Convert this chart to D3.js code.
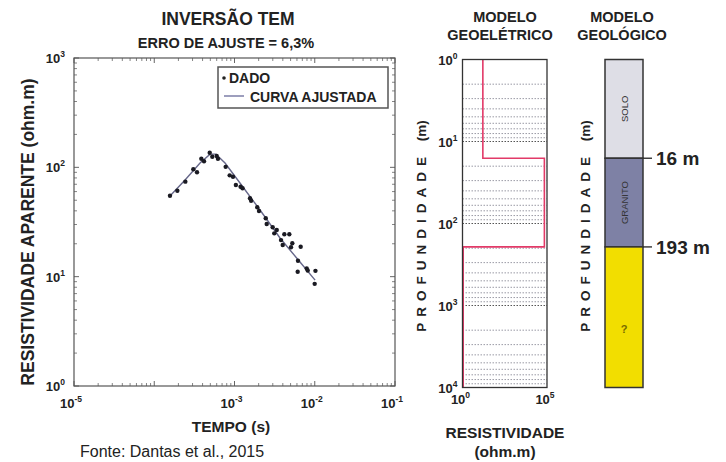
<!DOCTYPE html>
<html><head><meta charset="utf-8">
<script src="https://cdn.jsdelivr.net/npm/d3@7"></script>
<style>
body{margin:0;background:#fff}
svg{display:block}
text{font-family:"Liberation Sans",Arial,sans-serif;fill:#222;font-weight:bold}
</style>
</head><body>
<svg id="c" width="726" height="462"></svg>
<script>
// ---------- data ----------
const timeData = [1.57e-4,1.94e-4,2.44e-4,3.07e-4,3.41e-4,3.86e-4,4.17e-4,4.91e-4,5.29e-4,6.0e-4,6.22e-4,7.76e-4,8.71e-4,9.58e-4,1.04e-3,1.19e-3,1.26e-3,1.56e-3,1.61e-3,1.92e-3,2.02e-3,2.45e-3,2.52e-3,2.99e-3,3.13e-3,3.36e-3,3.80e-3,3.99e-3,4.18e-3,4.82e-3,5.06e-3,5.25e-3,6.18e-3,6.13e-3,6.68e-3,7.94e-3,8.17e-3,1.02e-2,9.98e-3];
const rhoData  = [55.0,61.1,74.0,95.9,90.2,120,113.6,136,125,127,120,101,84.5,82,68.9,66.5,64.3,52.1,49.5,43.1,39.9,34.2,30.3,28.3,24.9,26.7,21.6,19.5,24.4,24.4,18.6,20.2,14.0,11.1,18.8,11.9,11.4,11.3,8.6];
const fitTime = [1.57e-4,2.42e-4,3.72e-4,4.96e-4,5.87e-4,7.62e-4,1.17e-3,2.08e-3,3.69e-3,6.55e-3,1.01e-2];
const fitRho  = [54.7,76.6,109.6,132,132,109.6,71.9,40.7,22.6,13.6,9.3];
const xTickExp = [-5,-4,-3,-2,-1];
const xTickLabel = ["-5","","-3","-2","-1"];
const yTickExp = [0,1,2,3];
const legendLabels = ["DADO","CURVA AJUSTADA"];

const layerRho    = [16,70000,1.1];
const layerTop    = [1,16,193];
const layerBottom = [16,193,10000];
const depthTickExp = [0,1,2,3,4];
const resTickExp = [0,5];
const geoNames = ["SOLO","GRANITO","?"];
const boundaryDepth = [16,193];
const boundaryLabel = ["16 m","193 m"];

// ---------- styles ----------
const geoFill = ["#dedee6","#7e81a5","#f2de00"];
const geoText = ["#333","#333","#776a00"];

const svg = d3.select("#c");

function powLabel(g, x, y, base, exp, anchor, fs, sfs){
  const t = g.append("text").attr("x",x).attr("y",y).attr("text-anchor",anchor).style("font-size",fs+"px");
  t.append("tspan").text(base);
  t.append("tspan").attr("dy",-fs*0.45).style("font-size",sfs+"px").text(exp);
  return t;
}
function depthLabel(cx, cy){
  const t = svg.append("text").attr("transform",`translate(${cx},${cy}) rotate(-90)`).attr("text-anchor","middle").style("font-size","13.5px");
  t.append("tspan").style("letter-spacing","6px").text("PROFUNDIDADE ");
  t.append("tspan").text("(m)");
}

// ---------- main plot ----------
const X0=74, X1=395, Y0=58, Y1=386;
const x = d3.scaleLog().domain([1e-5,1e-1]).range([X0,X1]);
const y = d3.scaleLog().domain([1,1000]).range([Y1,Y0]);
const gm = svg.append("g");

const xMinor=[], yMinor=[];
for(let k=-5;k<-1;k++) for(let m=2;m<=9;m++) xMinor.push(m*Math.pow(10,k));
for(let k=0;k<3;k++) for(let m=2;m<=9;m++) yMinor.push(m*Math.pow(10,k));
const tickCol="#666";
xMinor.forEach(v=>{ const px=x(v);
  gm.append("line").attr("x1",px).attr("x2",px).attr("y1",Y1).attr("y2",Y1-3).attr("stroke",tickCol).attr("stroke-width",0.8);
  gm.append("line").attr("x1",px).attr("x2",px).attr("y1",Y0).attr("y2",Y0+3).attr("stroke",tickCol).attr("stroke-width",0.8);});
xTickExp.forEach(e=>{ const px=x(Math.pow(10,e));
  gm.append("line").attr("x1",px).attr("x2",px).attr("y1",Y1).attr("y2",Y1-5).attr("stroke",tickCol);
  gm.append("line").attr("x1",px).attr("x2",px).attr("y1",Y0).attr("y2",Y0+5).attr("stroke",tickCol);});
yMinor.forEach(v=>{ const py=y(v);
  gm.append("line").attr("x1",X0).attr("x2",X0+3).attr("y1",py).attr("y2",py).attr("stroke",tickCol).attr("stroke-width",0.8);
  gm.append("line").attr("x1",X1).attr("x2",X1-3).attr("y1",py).attr("y2",py).attr("stroke",tickCol).attr("stroke-width",0.8);});
yTickExp.forEach(e=>{ const py=y(Math.pow(10,e));
  gm.append("line").attr("x1",X0).attr("x2",X0+5).attr("y1",py).attr("y2",py).attr("stroke",tickCol);
  gm.append("line").attr("x1",X1).attr("x2",X1-5).attr("y1",py).attr("y2",py).attr("stroke",tickCol);});
gm.append("rect").attr("x",X0).attr("y",Y0).attr("width",X1-X0).attr("height",Y1-Y0).attr("fill","none").attr("stroke","#555").attr("stroke-width",1.2);

xTickExp.forEach((e,i)=>{ if(xTickLabel[i]!=="") powLabel(gm, x(Math.pow(10,e))-3, Y1+22, "10", xTickLabel[i], "middle", 13, 8.5); });
yTickExp.forEach(e=>{ powLabel(gm, X0-9, y(Math.pow(10,e))+5, "10", String(e), "end", 13, 8.5); });

const fit = fitTime.map((t,i)=>[t,fitRho[i]]);
gm.append("path").attr("d", d3.line().x(d=>x(d[0])).y(d=>y(d[1]))(fit))
  .attr("fill","none").attr("stroke","#66678a").attr("stroke-width",1.4);
gm.selectAll("circle.d").data(timeData.map((t,i)=>[t,rhoData[i]])).join("circle")
  .attr("cx",d=>x(d[0])).attr("cy",d=>y(d[1])).attr("r",2.2).attr("fill","#1a1a22");

const lg = gm.append("g");
lg.append("rect").attr("x",218).attr("y",67).attr("width",170).attr("height",41).attr("fill","#fff").attr("stroke","#555").attr("stroke-width",1.5);
lg.append("circle").attr("cx",224).attr("cy",78).attr("r",1.8).attr("fill","#222");
lg.append("text").attr("x",229).attr("y",83).style("font-size","14px").text(legendLabels[0]);
lg.append("line").attr("x1",224).attr("x2",244).attr("y1",96).attr("y2",96).attr("stroke","#9d9ebd").attr("stroke-width",2);
lg.append("text").attr("x",250).attr("y",102).style("font-size","14px").text(legendLabels[1]);

svg.append("text").attr("x",228).attr("y",25).attr("text-anchor","middle").style("font-size","17.5px").text("INVERSÃO TEM");
svg.append("text").attr("x",226).attr("y",48).attr("text-anchor","middle").style("font-size","14.5px").text("ERRO DE AJUSTE = 6,3%");
svg.append("text").attr("x",231).attr("y",432).attr("text-anchor","middle").style("font-size","15.5px").text("TEMPO (s)");
svg.append("text").attr("transform","translate(34,232) rotate(-90)").attr("text-anchor","middle").style("font-size","17.5px").text("RESISTIVIDADE APARENTE  (ohm.m)");
svg.append("text").attr("x",80).attr("y",457).style("font-size","16px").style("font-weight","normal").text("Fonte: Dantas et al., 2015");

// ---------- geoelectric model ----------
const M0=462.5, M1=547, D0=59.5, D1=387.5;
const rx = d3.scaleLog().domain([1,1e5]).range([M0,M1]);
const dz = d3.scaleLog().domain([1,1e4]).range([D0,D1]);
const gg = svg.append("g");
for(let k=0;k<4;k++) for(let m=1;m<=9;m++){
  const v=m*Math.pow(10,k); if(v===1) continue;
  gg.append("line").attr("x1",M0).attr("x2",M1).attr("y1",dz(v)).attr("y2",dz(v))
    .attr("stroke", m===1?"#555":"#80808e").attr("stroke-width", m===1?1:0.8).attr("stroke-dasharray","1.5,1.5");
}
const steps=[];
layerRho.forEach((r,i)=>{ steps.push([r,layerTop[i]]); steps.push([r,layerBottom[i]]); });
gg.append("path").attr("d", d3.line().x(d=>rx(d[0])).y(d=>dz(d[1]))(steps))
  .attr("fill","none").attr("stroke","#e23a68").attr("stroke-width",1.6);
gg.append("rect").attr("x",M0).attr("y",D0).attr("width",M1-M0).attr("height",D1-D0).attr("fill","none").attr("stroke","#333").attr("stroke-width",1.3);
depthTickExp.forEach(e=> powLabel(gg, M0-5, dz(Math.pow(10,e))+5, "10", String(e), "end", 13, 8.5));
resTickExp.forEach(e=> powLabel(gg, rx(Math.pow(10,e))-2, D1+16, "10", String(e), "middle", 13, 8.5));
svg.append("text").attr("x",505).attr("y",22).attr("text-anchor","middle").style("font-size","14.5px").text("MODELO");
svg.append("text").attr("x",500).attr("y",40).attr("text-anchor","middle").style("font-size","14.5px").text("GEOELÉTRICO");
svg.append("text").attr("x",505).attr("y",438).attr("text-anchor","middle").style("font-size","15.5px").text("RESISTIVIDADE");
svg.append("text").attr("x",505).attr("y",457).attr("text-anchor","middle").style("font-size","15.5px").text("(ohm.m)");
depthLabel(426,226);

// ---------- geological model ----------
const G0=605, G1=643;
const gc = svg.append("g");
geoNames.forEach((n,i)=>{
  gc.append("rect").attr("x",G0).attr("y",dz(layerTop[i])).attr("width",G1-G0).attr("height",dz(layerBottom[i])-dz(layerTop[i]))
    .attr("fill",geoFill[i]).attr("stroke","#333").attr("stroke-width",1.5);
});
geoNames.forEach((n,i)=>{
  const cy = (dz(layerTop[i])+dz(layerBottom[i]))/2 + (n==="?"?12:0);
  if(n==="?") gc.append("text").attr("x",(G0+G1)/2).attr("y",cy+4).attr("text-anchor","middle").style("font-size","11px").style("fill",geoText[i]).text(n);
  else gc.append("text").attr("transform",`translate(${(G0+G1)/2+3.5},${cy}) rotate(-90)`).attr("text-anchor","middle").style("font-size","9.5px").style("font-weight","normal").style("fill",geoText[i]).text(n);
});
boundaryDepth.forEach((d,i)=>{
  gc.append("line").attr("x1",G1).attr("x2",G1+9).attr("y1",dz(d)).attr("y2",dz(d)).attr("stroke","#333").attr("stroke-width",1.4);
  gc.append("text").attr("x",G1+13).attr("y",dz(d)+7).style("font-size","19px").text(boundaryLabel[i]);
});
svg.append("text").attr("x",622).attr("y",22).attr("text-anchor","middle").style("font-size","14.5px").text("MODELO");
svg.append("text").attr("x",622).attr("y",40).attr("text-anchor","middle").style("font-size","14.5px").text("GEOLÓGICO");
depthLabel(590,226);
</script>
</body></html>
